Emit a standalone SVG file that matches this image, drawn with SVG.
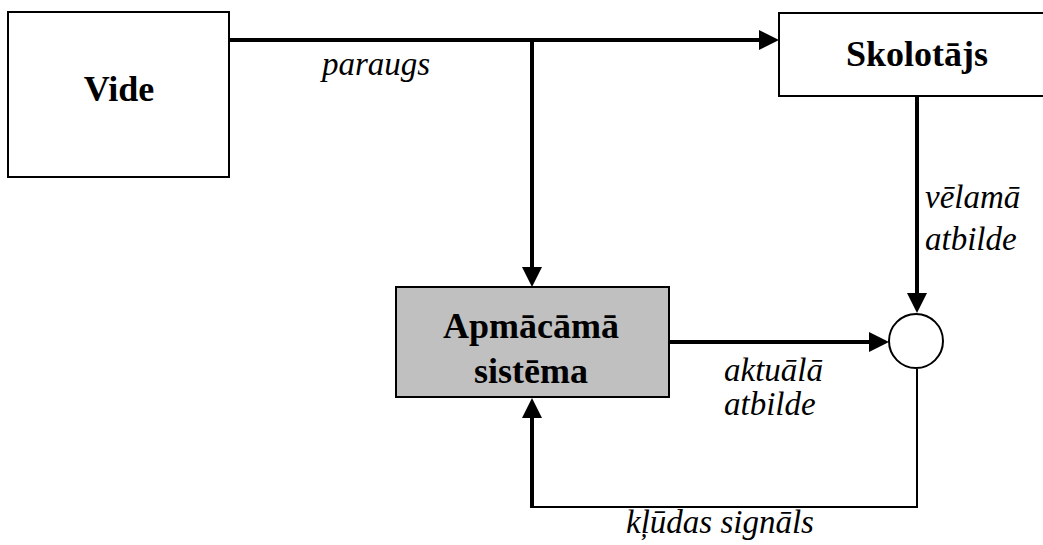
<svg xmlns="http://www.w3.org/2000/svg" width="1043" height="545" viewBox="0 0 1043 545">
  <style>
    .box { fill: #ffffff; stroke: #000000; stroke-width: 2; }
    .box.gray { fill: #c0c0c0; }
    .title { font-family: "Liberation Serif", "Times New Roman", serif; font-weight: bold; font-size: 36px; fill: #000000; text-anchor: middle; }
    .label { font-family: "Liberation Serif", "Times New Roman", serif; font-style: italic; font-size: 33px; fill: #000000; }
    .thick { fill: none; stroke: #000000; stroke-width: 4; }
    .thin { fill: none; stroke: #000000; stroke-width: 2; }
  </style>
  <defs>
    <marker id="arrow" markerUnits="userSpaceOnUse" markerWidth="20" markerHeight="20" viewBox="0 0 20 20" refX="1" refY="10" orient="auto">
      <path d="M0,0 L20,10 L0,20 z" fill="#000000"/>
    </marker>
  </defs>

  <rect width="1043" height="545" fill="#ffffff"/>

  <!-- connectors -->
  <g id="connectors">
    <path class="thick" d="M229,40 H760" marker-end="url(#arrow)"/>
    <path class="thick" d="M532,40 V268" marker-end="url(#arrow)"/>
    <path class="thick" d="M917,96 V294" marker-end="url(#arrow)"/>
    <path class="thick" d="M669,342 H870" marker-end="url(#arrow)"/>
    <path class="thin" d="M917,369 V507 H531"/>
    <path class="thick" d="M532,508 V417" marker-end="url(#arrow)"/>
  </g>

  <!-- nodes -->
  <g id="vide">
    <rect class="box" x="8" y="12" width="221" height="165"/>
    <text class="title" x="119" y="101">Vide</text>
  </g>

  <g id="skolotajs">
    <rect class="box" x="779" y="13" width="290" height="83"/>
    <text class="title" x="917" y="66">Skolotājs</text>
  </g>

  <g id="apmacama-sistema">
    <rect class="box gray" x="396" y="287" width="273" height="110"/>
    <text class="title" x="531" y="338">Apmācāmā</text>
    <text class="title" x="531" y="383">sistēma</text>
  </g>

  <g id="salidzinatajs">
    <circle class="thin" cx="916" cy="341" r="27" fill="#ffffff"/>
  </g>

  <!-- connector labels -->
  <g id="labels">
    <text class="label" x="322" y="75">paraugs</text>
    <text class="label" x="925" y="208">vēlamā</text>
    <text class="label" x="925" y="250">atbilde</text>
    <text class="label" x="724" y="381">aktuālā</text>
    <text class="label" x="724" y="415">atbilde</text>
    <text class="label" x="626" y="533">kļūdas signāls</text>
  </g>
</svg>
